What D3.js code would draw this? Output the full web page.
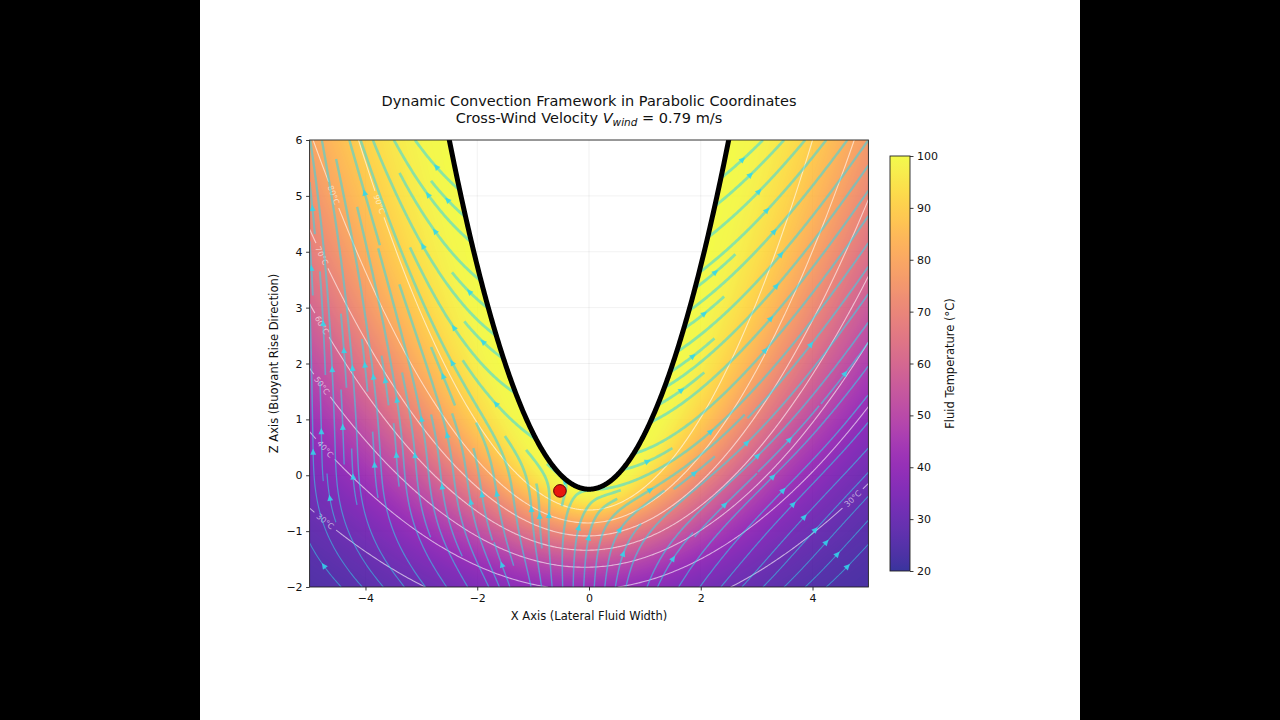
<!DOCTYPE html>
<html><head><meta charset="utf-8">
<script src="https://cdn.jsdelivr.net/npm/d3@7"></script>
<style>body{margin:0;background:#000;}svg{display:block;font-family:"DejaVu Sans",sans-serif;}</style>
</head><body>
<svg id="chart" width="1280" height="720"></svg>
<script>
// ---------------- data ----------------
const xDomain = [-5, 5];
const zDomain = [-2, 6];
const xTicks = [-4, -2, 0, 2, 4];
const zTicks = [-2, -1, 0, 1, 2, 3, 4, 5, 6];
const colorTicks = [20, 30, 40, 50, 60, 70, 80, 90, 100];
const tempRange = [20, 100];
const windVelocity = [0.79];
const boundarySigma = [Math.SQRT1_2];          // parabola sigma = 1/sqrt(2)  ->  z = x^2 - 1/4
const contourLevels = [30, 40, 50, 60, 70, 80, 90];
const labelLevels = [90, 80, 70, 60, 50, 40, 30, 30];
const labelXs = [-3.75, -4.57, -4.78, -4.78, -4.78, -4.72, -4.72, 4.72];
const probePoint = [[-0.52, -0.28]];
const titleLine1 = ["Dynamic Convection Framework in Parabolic Coordinates"];
const axisLabels = ["X Axis (Lateral Fluid Width)", "Z Axis (Buoyant Rise Direction)", "Fluid Temperature (°C)"];

// ---------------- layout ----------------
const plot = {left: 309.6, right: 868.4, top: 140, bottom: 587};
const cbar = {left: 890, right: 910, top: 156, bottom: 571};
const x = d3.scaleLinear().domain(xDomain).range([plot.left, plot.right]);
const y = d3.scaleLinear().domain(zDomain).range([plot.bottom, plot.top]);
const cScale = d3.scaleLinear().domain(tempRange).range([cbar.bottom, cbar.top]);
const heatAlpha = 0.82;
const s0 = boundarySigma[0];

// ---------------- field model ----------------
function parab(px, pz) {
  const r = Math.hypot(px, pz);
  const sigma = Math.sqrt(Math.max(r - pz, 0));
  const ta = Math.sqrt(Math.max(r + pz, 0));
  const tau = px >= 0 ? ta : -ta;
  return {sigma, tau, h: Math.sqrt(sigma * sigma + tau * tau)};
}
function temperature(px, pz) {
  const p = parab(px, pz);
  const d = p.sigma - s0;
  if (d < 0) return 100;
  const de = d * (1 + 0.04 * Math.tanh(p.tau / 2));
  return tempRange[0] + (tempRange[1] - tempRange[0]) * Math.exp(-de * de / 1.25);
}
const smooth = t => { t = Math.min(1, Math.max(0, t)); return t * t * (3 - 2 * t); };
function velocity(px, pz) {
  const p = parab(px, pz);
  const d = p.sigma - s0;
  if (d < 0 || p.h < 1e-9) return null;
  const esx = p.tau / p.h, esz = -p.sigma / p.h;
  const at = Math.abs(p.tau);
  const G = 0.75 * Math.exp(-d / 0.45) + 0.18 + 0.7 * Math.exp(-(pz + 2) / 2.6) * at / (at + 0.5);
  const V = windVelocity[0] * (0.05 + 0.35 * (1 - Math.exp(-d / 0.5)) * smooth((pz + 2) / 2.5)
    + 0.7 * Math.exp(-d / 0.4) * Math.exp(-(pz + 0.3) * (pz + 0.3)));
  return [G * esx + V, 1 + G * esz];
}

// ---------------- svg base ----------------
const svg = d3.select("#chart");
svg.append("rect").attr("width", 1280).attr("height", 720).attr("fill", "#000");
svg.append("rect").attr("x", 200).attr("width", 880).attr("height", 720).attr("fill", "#fff");
const defs = svg.append("defs");
defs.append("clipPath").attr("id", "plotclip").append("rect")
  .attr("x", plot.left).attr("y", plot.top).attr("width", plot.right - plot.left).attr("height", plot.bottom - plot.top);

// grid (visible only where the field is blank)
const grid = svg.append("g").attr("clip-path", "url(#plotclip)").attr("stroke", "#000").attr("stroke-opacity", 0.07).attr("stroke-width", 0.8);
xTicks.forEach(t => grid.append("line").attr("x1", x(t)).attr("x2", x(t)).attr("y1", plot.top).attr("y2", plot.bottom));
zTicks.forEach(t => grid.append("line").attr("y1", y(t)).attr("y2", y(t)).attr("x1", plot.left).attr("x2", plot.right));

// ---------------- heatmap ----------------
const lut = d3.range(256).map(i => d3.rgb(d3.interpolatePlasma(i / 255)));
{
  const w = Math.round(plot.right - plot.left), h = Math.round(plot.bottom - plot.top);
  const cv = document.createElement("canvas"); cv.width = w; cv.height = h;
  const ctx = cv.getContext("2d");
  const img = ctx.createImageData(w, h);
  for (let j = 0; j < h; j++) {
    const pz = y.invert(plot.top + (j + 0.5) * (plot.bottom - plot.top) / h);
    for (let i = 0; i < w; i++) {
      const px = x.invert(plot.left + (i + 0.5) * (plot.right - plot.left) / w);
      const k = 4 * (j * w + i);
      if (parab(px, pz).sigma < s0) { img.data[k + 3] = 0; continue; }
      const t = (temperature(px, pz) - tempRange[0]) / (tempRange[1] - tempRange[0]);
      const c = lut[Math.max(0, Math.min(255, Math.round(t * 255)))];
      img.data[k] = c.r; img.data[k + 1] = c.g; img.data[k + 2] = c.b; img.data[k + 3] = Math.round(255 * heatAlpha);
    }
  }
  ctx.putImageData(img, 0, 0);
  svg.append("image").attr("x", plot.left).attr("y", plot.top).attr("width", plot.right - plot.left).attr("height", plot.bottom - plot.top)
    .attr("preserveAspectRatio", "none").attr("href", cv.toDataURL());
}

// ---------------- contour labels (positions) ----------------
const labels = labelLevels.map((lv, i) => {
  const lx = labelXs[i];
  let lo = zDomain[0], hi = zDomain[1];
  const f = zz => temperature(lx, zz) - lv;
  for (let k = 0; k < 60; k++) { const m = (lo + hi) / 2; if (f(lo) * f(m) <= 0) hi = m; else lo = m; }
  const lz = (lo + hi) / 2, e = 1e-3;
  const gx = (temperature(lx + e, lz) - temperature(lx - e, lz)) / (2 * e);
  const gz = (temperature(lx, lz + e) - temperature(lx, lz - e)) / (2 * e);
  let ang = Math.atan2(gx, gz) * 180 / Math.PI;
  if (ang > 90) ang -= 180; if (ang < -90) ang += 180;
  return {level: lv, px: x(lx), py: y(lz), ang, ok: lz > zDomain[0] + 0.05 && lz < zDomain[1] - 0.05};
}).filter(l => l.ok);
const lblMask = defs.append("mask").attr("id", "lblmask").attr("maskUnits", "userSpaceOnUse")
  .attr("x", 0).attr("y", 0).attr("width", 1280).attr("height", 720);
lblMask.append("rect").attr("width", 1280).attr("height", 720).attr("fill", "#fff");
labels.forEach(l => lblMask.append("rect").attr("x", -14).attr("y", -5).attr("width", 28).attr("height", 10).attr("fill", "#000")
  .attr("transform", `translate(${l.px},${l.py}) rotate(${l.ang})`));

// ---------------- contours ----------------
{
  const nx = 281, nz = 225;
  const dx = (xDomain[1] - xDomain[0]) / (nx - 1), dz = (zDomain[1] - zDomain[0]) / (nz - 1);
  const vals = new Float64Array(nx * nz);
  for (let j = 0; j < nz; j++) for (let i = 0; i < nx; i++)
    vals[j * nx + i] = temperature(xDomain[0] + i * dx, zDomain[1] - j * dz);
  const cons = d3.contours().size([nx, nz]).thresholds(contourLevels)(vals);
  const proj = d3.geoTransform({point: function (gx, gz) {
    this.stream.point(x(xDomain[0] + (gx - 0.5) * dx), y(zDomain[1] - (gz - 0.5) * dz));
  }});
  const path = d3.geoPath(proj);
  const cg = svg.append("g").attr("clip-path", "url(#plotclip)").append("g").attr("mask", "url(#lblmask)");
  cg.selectAll("path").data(cons).join("path").attr("d", path)
    .attr("fill", "none").attr("stroke", "#fff").attr("stroke-opacity", 0.6).attr("stroke-width", 1.1);
  const lg = svg.append("g").attr("clip-path", "url(#plotclip)");
  labels.forEach(l => lg.append("text").attr("transform", `translate(${l.px},${l.py}) rotate(${l.ang})`)
    .attr("text-anchor", "middle").attr("dy", "0.35em").attr("font-size", 8).attr("fill", "#fff").attr("fill-opacity", 0.6)
    .text(`${l.level}°C`));
}

// ---------------- streamlines (matplotlib-like) ----------------
const density = 1.8;
const N = Math.round(30 * density);
const mask = new Int32Array(N * N);
const ds = 0.0016, maxLength = 4.0, minLength = 0.1;
function dirF(fx, fz) {
  const v = velocity(xDomain[0] + fx * (xDomain[1] - xDomain[0]), zDomain[0] + fz * (zDomain[1] - zDomain[0]));
  if (!v) return null;
  const a = v[0] / (xDomain[1] - xDomain[0]), b = v[1] / (zDomain[1] - zDomain[0]);
  const n = Math.hypot(a, b);
  if (n < 1e-9) return null;
  return [a / n, b / n];
}
const cellOf = (fx, fz) => Math.round(fz * (N - 1)) * N + Math.round(fx * (N - 1));
const streams = [];
let lineId = 0;
function trajectory(fx0, fz0) {
  const c0 = cellOf(fx0, fz0);
  if (mask[c0]) return;
  if (!dirF(fx0, fz0)) return;
  const id = ++lineId, touched = [c0];
  mask[c0] = id;
  function run(sign) {
    const pts = []; let fx = fx0, fz = fz0, cur = c0, len = 0, prev = null;
    for (let it = 0; it < 5000; it++) {
      const d1 = dirF(fx, fz); if (!d1) break;
      if (prev && d1[0] * prev[0] + d1[1] * prev[1] < 0) break;
      const d2 = dirF(fx + sign * d1[0] * ds / 2, fz + sign * d1[1] * ds / 2); if (!d2) break;
      const nx = fx + sign * d2[0] * ds, nz = fz + sign * d2[1] * ds;
      if (nx < 0 || nx > 1 || nz < 0 || nz > 1) break;
      const cell = cellOf(nx, nz);
      if (cell !== cur) { if (mask[cell]) break; mask[cell] = id; touched.push(cell); cur = cell; }
      fx = nx; fz = nz; len += ds; prev = d1; pts.push([fx, fz]);
      if (len > maxLength) break;
    }
    return {pts, len};
  }
  const f = run(1), b = run(-1);
  if (f.len + b.len < minLength) { touched.forEach(c => { if (mask[c] === id) mask[c] = 0; }); return; }
  streams.push(b.pts.reverse().concat([[fx0, fz0]], f.pts));
}
{
  let xf = 0, yf = 1, xl = N - 1, yl = N - 1, cx = 0, cy = 0, dir = "right";
  for (let i = 0; i < N * N; i++) {
    if (!mask[cy * N + cx]) trajectory(cx / (N - 1), cy / (N - 1));
    if (dir === "right") { cx++; if (cx >= xl) { xl--; dir = "up"; } }
    else if (dir === "up") { cy++; if (cy >= yl) { yl--; dir = "left"; } }
    else if (dir === "left") { cx--; if (cx <= xf) { xf++; dir = "down"; } }
    else { cy--; if (cy <= yf) { yf++; dir = "right"; } }
  }
}
const toPix = p => [x(xDomain[0] + p[0] * (xDomain[1] - xDomain[0])), y(zDomain[0] + p[1] * (zDomain[1] - zDomain[0]))];
const theta = p => (temperature(x.invert(p[0]), y.invert(p[1])) - tempRange[0]) / (tempRange[1] - tempRange[0]);
const streamColor = "rgb(50,215,235)";
const sg = svg.append("g").attr("clip-path", "url(#plotclip)");
const ag = svg.append("g").attr("clip-path", "url(#plotclip)");
streams.forEach(raw => {
  const full = raw.map(toPix);
  const pts = full.filter((p, i) => i % 2 === 0 || i === full.length - 1);
  if (pts.length < 2) return;
  const L = [], R = [];
  for (let i = 0; i < pts.length; i++) {
    const a = pts[Math.max(0, i - 1)], b = pts[Math.min(pts.length - 1, i + 1)];
    const ddx = b[0] - a[0], ddy = b[1] - a[1], n = Math.hypot(ddx, ddy) || 1;
    const w = (0.9 + 1.9 * theta(pts[i])) / 2;
    L.push([pts[i][0] - ddy / n * w, pts[i][1] + ddx / n * w]);
    R.push([pts[i][0] + ddy / n * w, pts[i][1] - ddx / n * w]);
  }
  const d = "M" + L.map(p => p[0].toFixed(2) + "," + p[1].toFixed(2)).join("L") + "L" +
    R.reverse().map(p => p[0].toFixed(2) + "," + p[1].toFixed(2)).join("L") + "Z";
  sg.append("path").attr("d", d).attr("fill", streamColor).attr("fill-opacity", 0.55);
  // arrow at the middle (by arc length)
  let s = [0];
  for (let i = 1; i < full.length; i++) s.push(s[i - 1] + Math.hypot(full[i][0] - full[i - 1][0], full[i][1] - full[i - 1][1]));
  const half = s[s.length - 1] / 2;
  let n = s.findIndex(v => v >= half); if (n < 0) n = full.length - 2; n = Math.min(n, full.length - 2);
  const p = full[n], q = full[n + 1];
  const ux = q[0] - p[0], uy = q[1] - p[1], un = Math.hypot(ux, uy) || 1;
  const dx = ux / un, dy = uy / un, hl = 6.2, hw = 3.0;
  const tip = [p[0] + dx * 3, p[1] + dy * 3], base = [tip[0] - dx * hl, tip[1] - dy * hl];
  ag.append("path").attr("d", `M${tip[0]},${tip[1]}L${base[0] - dy * hw},${base[1] + dx * hw}L${base[0] + dy * hw},${base[1] - dx * hw}Z`)
    .attr("fill", streamColor).attr("fill-opacity", 0.85);
});

// ---------------- boundary parabola ----------------
{
  const xs = d3.range(-2.6, 2.6001, 0.01);
  const line = d3.line().x(d => x(d)).y(d => y(d * d / (2 * s0 * s0) - s0 * s0 / 2));
  svg.append("g").attr("clip-path", "url(#plotclip)").append("path").attr("d", line(xs))
    .attr("fill", "none").attr("stroke", "#000").attr("stroke-width", 5).attr("stroke-linejoin", "round");
}

// probe point
svg.append("g").selectAll("circle").data(probePoint).join("circle")
  .attr("cx", d => x(d[0])).attr("cy", d => y(d[1])).attr("r", 6.3)
  .attr("fill", "#e8160f").attr("stroke", "#5a0000").attr("stroke-width", 1);

// ---------------- axes ----------------
svg.append("rect").attr("x", plot.left).attr("y", plot.top).attr("width", plot.right - plot.left).attr("height", plot.bottom - plot.top)
  .attr("fill", "none").attr("stroke", "#222").attr("stroke-width", 0.9);
const styleAxis = g => { g.select(".domain").remove(); g.selectAll("line").attr("stroke", "#222").attr("stroke-width", 0.9);
  g.selectAll("text").attr("font-size", 11).attr("fill", "#111").attr("font-family", "DejaVu Sans"); };
svg.append("g").attr("transform", `translate(0,${plot.bottom})`)
  .call(d3.axisBottom(x).tickValues(xTicks).tickSize(3.5).tickPadding(3.5).tickFormat(d3.format("d"))).call(styleAxis);
svg.append("g").attr("transform", `translate(${plot.left},0)`)
  .call(d3.axisLeft(y).tickValues(zTicks).tickSize(3.5).tickPadding(3.5).tickFormat(d3.format("d"))).call(styleAxis);

svg.append("text").attr("x", (plot.left + plot.right) / 2).attr("y", 620).attr("text-anchor", "middle")
  .attr("font-size", 11.5).attr("fill", "#111").text(axisLabels[0]);
svg.append("text").attr("transform", `translate(278,${(plot.top + plot.bottom) / 2}) rotate(-90)`).attr("text-anchor", "middle")
  .attr("font-size", 11.5).attr("fill", "#111").text(axisLabels[1]);

// title
svg.append("text").attr("x", (plot.left + plot.right) / 2).attr("y", 106).attr("text-anchor", "middle")
  .attr("font-size", 14.5).attr("fill", "#111").text(titleLine1[0]);
{
  const t2 = svg.append("text").attr("x", (plot.left + plot.right) / 2).attr("y", 123).attr("text-anchor", "middle")
    .attr("font-size", 14.5).attr("fill", "#111");
  t2.append("tspan").text("Cross-Wind Velocity ");
  t2.append("tspan").attr("font-style", "italic").text("V");
  t2.append("tspan").attr("font-style", "italic").attr("font-size", 10.5).attr("dy", 3).text("wind");
  t2.append("tspan").attr("dy", -3).text(` = ${windVelocity[0].toFixed(2)} m/s`);
}

// ---------------- colorbar ----------------
{
  const grad = defs.append("linearGradient").attr("id", "cbgrad").attr("x1", 0).attr("y1", 1).attr("x2", 0).attr("y2", 0);
  d3.range(0, 1.0001, 0.02).forEach(t => grad.append("stop").attr("offset", t).attr("stop-color", d3.interpolatePlasma(t)).attr("stop-opacity", heatAlpha));
  svg.append("rect").attr("x", cbar.left).attr("y", cbar.top).attr("width", cbar.right - cbar.left).attr("height", cbar.bottom - cbar.top)
    .attr("fill", "url(#cbgrad)").attr("stroke", "#222").attr("stroke-width", 0.9);
  svg.append("g").attr("transform", `translate(${cbar.right},0)`)
    .call(d3.axisRight(cScale).tickValues(colorTicks).tickSize(3.5).tickPadding(3.5).tickFormat(d3.format("d"))).call(styleAxis);
  svg.append("text").attr("transform", `translate(954,${(cbar.top + cbar.bottom) / 2}) rotate(-90)`).attr("text-anchor", "middle")
    .attr("font-size", 11.5).attr("fill", "#111").text(axisLabels[2]);
}
</script>
</body></html>
